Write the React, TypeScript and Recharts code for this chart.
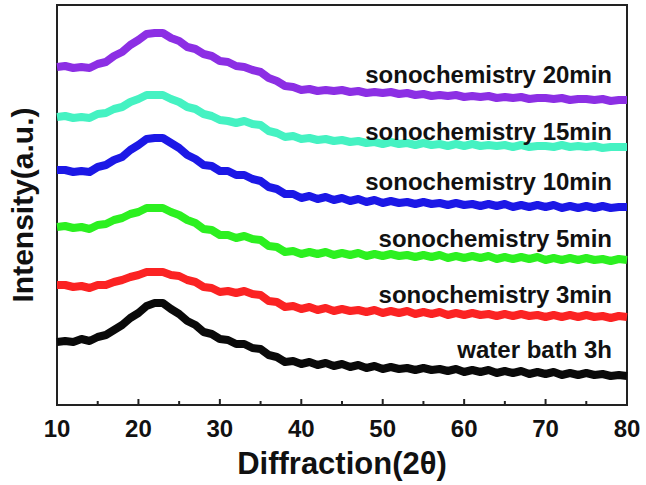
import { LineChart, Line, XAxis, YAxis, ReferenceArea, ReferenceDot, Label } from "recharts";

const FONT = '"Liberation Sans", Arial, Helvetica, sans-serif';

// 2θ from 10 to 80 in 1° steps
const angles = Array.from({ length: 71 }, (_, i) => 10 + i);

const xTicks = [10, 15, 20, 25, 30, 35, 40, 45, 50, 55, 60, 65, 70, 75, 80];

// intensities (a.u., curves already offset as in the figure)
const waterBath3h = [
  63, 64, 63, 66, 64, 68, 70, 75, 80, 87,
  92, 99, 102, 102, 96, 91, 84, 80, 73, 71,
  66, 65, 61, 61, 57, 56, 50, 48, 43, 44,
  41, 43, 40, 42, 39, 41, 38, 40, 37, 39,
  36, 38, 36, 37, 35, 37, 35, 36, 34, 36,
  33, 35, 33, 35, 32, 34, 32, 34, 31, 33,
  31, 33, 30, 32, 30, 32, 30, 31, 29, 30,
  29,
];
const sono3min = [
  120, 120, 118, 119, 117, 120, 120, 123, 125, 128,
  130, 133, 133, 133, 130, 129, 125, 123, 118, 117,
  113, 114, 112, 114, 111, 110, 104, 103, 98, 99,
  96, 98, 95, 97, 94, 96, 94, 95, 93, 95,
  92, 94, 92, 94, 91, 93, 91, 93, 90, 92,
  90, 92, 90, 91, 89, 91, 89, 91, 89, 90,
  88, 90, 88, 90, 88, 90, 88, 89, 87, 89,
  88,
];
const sono5min = [
  178, 179, 177, 178, 176, 180, 181, 185, 187, 191,
  193, 197, 197, 197, 193, 190, 185, 182, 176, 175,
  170, 170, 167, 169, 166, 165, 159, 158, 153, 154,
  151, 153, 151, 153, 150, 152, 150, 152, 149, 151,
  149, 151, 149, 150, 148, 150, 148, 150, 147, 149,
  147, 149, 147, 149, 146, 148, 146, 148, 146, 148,
  145, 147, 145, 147, 145, 147, 145, 146, 144, 146,
  145,
];
const sono10min = [
  235, 235, 233, 234, 233, 238, 240, 245, 248, 255,
  260, 266, 267, 267, 262, 257, 250, 246, 240, 239,
  234, 234, 230, 230, 226, 224, 218, 216, 211, 211,
  207, 209, 206, 208, 205, 207, 204, 206, 203, 205,
  202, 204, 202, 203, 201, 203, 201, 202, 200, 202,
  200, 201, 199, 201, 199, 201, 198, 200, 198, 200,
  198, 200, 197, 199, 197, 199, 197, 199, 197, 198,
  198,
];
const sono15min = [
  288, 289, 287, 288, 287, 291, 292, 296, 298, 303,
  306, 310, 310, 310, 306, 303, 298, 296, 291, 289,
  285, 284, 282, 284, 281, 280, 274, 272, 268, 269,
  266, 267, 265, 266, 264, 265, 263, 264, 262, 263,
  261, 263, 261, 262, 260, 262, 260, 261, 259, 261,
  259, 261, 259, 260, 259, 260, 258, 260, 258, 259,
  259, 258, 260, 258, 259, 258, 259, 257, 258, 258,
  258,
];
const sono20min = [
  338, 339, 337, 338, 337, 341, 343, 349, 353, 360,
  365, 371, 372, 372, 367, 364, 358, 356, 351, 349,
  344, 343, 339, 338, 335, 333, 327, 324, 319, 318,
  315, 316, 314, 315, 314, 315, 313, 314, 312, 313,
  312, 313, 311, 312, 310, 311, 309, 310, 309, 310,
  308, 309, 308, 309, 307, 308, 307, 308, 306, 307,
  307, 306, 307, 305, 306, 306, 305, 306, 304, 305,
  305,
];

const seriesNames = [
  "water bath 3h",
  "sonochemistry 3min",
  "sonochemistry 5min",
  "sonochemistry 10min",
  "sonochemistry 15min",
  "sonochemistry 20min",
];
const seriesValues = [waterBath3h, sono3min, sono5min, sono10min, sono15min, sono20min];
const seriesColors = ["#0a0a0a", "#fb2323", "#2cf020", "#1c18e6", "#45f2c2", "#8c2fe4"];
// how far (px) the name's baseline sits above the curve's right end
const labelRise = [18, 14, 13, 17, 7, 17];

const rows = angles.map((a, i) => {
  const r: Record<string, number> = { a };
  seriesValues.forEach((s, k) => (r["s" + k] = s[i]));
  return r;
});

function XTick({ x, y, payload }: any) {
  const major = payload.value % 10 === 0;
  return (
    <g>
      <line x1={x} x2={x} y1={y} y2={y - (major ? 6 : 4)} stroke="#222" strokeWidth={2} />
      {major && (
        <text x={x} y={y + 32} textAnchor="middle" fontFamily={FONT} fontWeight="bold" fontSize={24} fill="#111">
          {payload.value}
        </text>
      )}
    </g>
  );
}

export default function App() {
  return (
    <div style={{ position: "absolute", left: 0, top: 0, width: 646, height: 485, background: "#fff" }}>
      <LineChart width={646} height={485} data={rows} margin={{ top: 5, right: 19, left: 0, bottom: 0 }}>
        <XAxis
          dataKey="a"
          type="number"
          domain={[10, 80]}
          ticks={xTicks}
          interval={0}
          tick={<XTick />}
          tickLine={false}
          axisLine={false}
          tickSize={0}
          tickMargin={0}
          height={80}
        >
          <Label
            value="Diffraction(2θ)"
            position="insideBottom"
            offset={11}
            style={{ fontFamily: FONT, fontWeight: "bold", fontSize: 31, fill: "#111" }}
          />
        </XAxis>
        <YAxis
          type="number"
          domain={[0, 400]}
          allowDataOverflow
          width={57}
          tick={false}
          tickLine={false}
          axisLine={false}
        >
          <Label
            value="Intensity(a.u.)"
            angle={-90}
            position="insideLeft"
            offset={22}
            style={{ textAnchor: "middle", fontFamily: FONT, fontWeight: "bold", fontSize: 30, fill: "#111" }}
          />
        </YAxis>
        {seriesNames.map((name, k) => (
          <Line
            key={name}
            dataKey={"s" + k}
            type="linear"
            stroke={seriesColors[k]}
            strokeWidth={8}
            strokeLinejoin="round"
            dot={false}
            isAnimationActive={false}
          />
        ))}
        {seriesNames.map((name, k) => (
          <ReferenceDot
            key={"lbl" + k}
            x={80}
            y={seriesValues[k][seriesValues[k].length - 1]}
            r={0}
            fill="none"
            stroke="none"
            label={({ viewBox }: any) => (
              <text
                x={viewBox.x - 15}
                y={viewBox.y - labelRise[k]}
                textAnchor="end"
                fontFamily={FONT}
                fontWeight="bold"
                fontSize={24}
                fill="#111"
              >
                {name}
              </text>
            )}
          />
        ))}
        <ReferenceArea x1={10} x2={80} y1={0} y2={400} fill="none" stroke="#222" strokeWidth={2} />
      </LineChart>
    </div>
  );
}
